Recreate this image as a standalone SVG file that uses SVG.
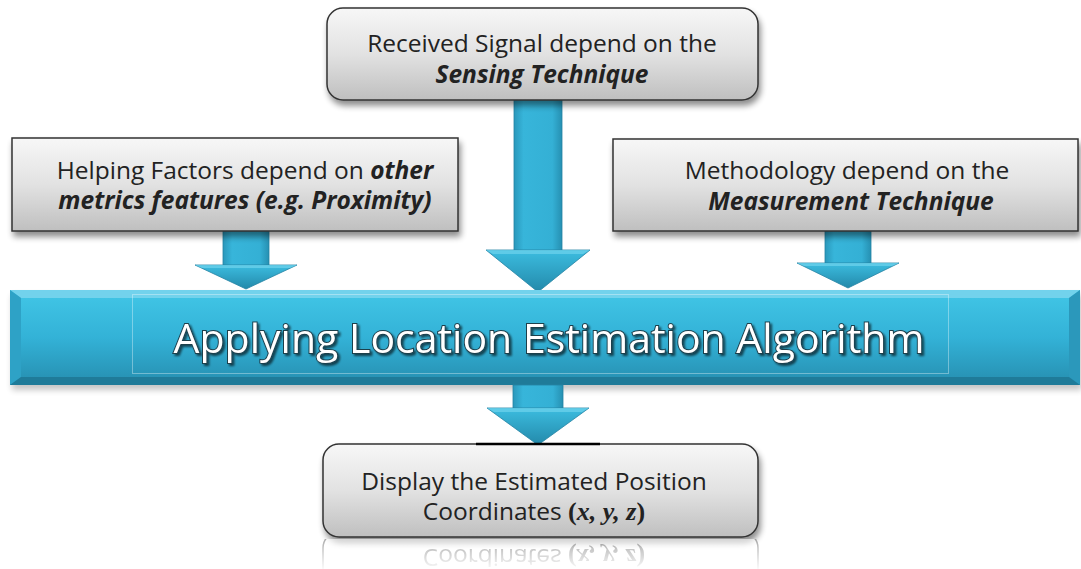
<svg xmlns="http://www.w3.org/2000/svg" width="1081" height="569" viewBox="0 0 1081 569">
<defs>
<linearGradient id="gray" x1="0" y1="0" x2="0" y2="1">
<stop offset="0" stop-color="#f7f7f7"/>
<stop offset="0.5" stop-color="#e2e2e2"/>
<stop offset="1" stop-color="#bfbfbf"/>
</linearGradient>
<linearGradient id="bannerFace" x1="0" y1="0" x2="0" y2="1">
<stop offset="0" stop-color="#3fc3e4"/>
<stop offset="0.5" stop-color="#33b2d7"/>
<stop offset="1" stop-color="#2894b6"/>
</linearGradient>
<linearGradient id="shaft" x1="0" y1="0" x2="1" y2="0">
<stop offset="0" stop-color="#2a98bb"/>
<stop offset="0.2" stop-color="#37b5da"/>
<stop offset="0.8" stop-color="#34b0d5"/>
<stop offset="1" stop-color="#2690b2"/>
</linearGradient>
<linearGradient id="head" x1="0" y1="0" x2="0" y2="1">
<stop offset="0" stop-color="#3cbde0"/>
<stop offset="1" stop-color="#2389aa"/>
</linearGradient>
<linearGradient id="fade" x1="0" y1="0" x2="0" y2="1">
<stop offset="0" stop-color="#fff" stop-opacity="0.6"/>
<stop offset="1" stop-color="#fff" stop-opacity="0.05"/>
</linearGradient>
<mask id="reflMask" maskUnits="userSpaceOnUse" x="0" y="0" width="1081" height="569">
<rect x="300" y="539" width="480" height="30" fill="url(#fade)"/>
</mask>
<filter id="shadow" x="-5%" y="-10%" width="110%" height="130%">
<feGaussianBlur in="SourceAlpha" stdDeviation="3"/>
<feOffset dx="2" dy="5" result="b"/>
<feComponentTransfer><feFuncA type="linear" slope="0.45"/></feComponentTransfer>
<feMerge><feMergeNode/><feMergeNode in="SourceGraphic"/></feMerge>
</filter>
<filter id="txtShadow" x="-5%" y="-20%" width="110%" height="150%">
<feGaussianBlur in="SourceAlpha" stdDeviation="1.2"/>
<feOffset dx="2" dy="2"/>
<feComponentTransfer><feFuncA type="linear" slope="0.6"/></feComponentTransfer>
<feMerge><feMergeNode/><feMergeNode in="SourceGraphic"/></feMerge>
</filter>
</defs>
<style>
.box{fill:url(#gray);stroke:#333;stroke-width:1.5}
.t{font-family:"Open Sans","Liberation Sans",sans-serif;font-size:24.5px;fill:#222;text-anchor:middle}
.bi{font-weight:bold;font-style:italic}
.math{font-family:"Liberation Serif",serif;font-weight:bold;font-size:26px}
.shaft{fill:url(#shaft);stroke:#2583a3;stroke-width:0.8}
.head{fill:url(#head);stroke:#2583a3;stroke-width:0.8}
.hl{fill:#6fd3ec;opacity:0.7}
.banner-t{font-family:"Open Sans","Liberation Sans",sans-serif;font-size:41px;fill:#fff;stroke:#1c3f4c;stroke-width:2;paint-order:stroke;text-anchor:middle}
</style>
<rect width="1081" height="569" fill="#fff"/>

<g id="connectors">
<g id="arrow-left">
<rect class="shaft" x="223" y="231" width="46" height="35"/>
<path class="head" d="M195,265 L297,265 L246,289 Z"/>
<path class="hl" d="M195,265 L297,265 L290,268 L202,268 Z"/>
</g>
<g id="arrow-center">
<rect class="shaft" x="514" y="100" width="48" height="151"/>
<path class="head" d="M486,250 L590,250 L538,292 Z"/>
<path class="hl" d="M486,250 L590,250 L583,254 L493,254 Z"/>
</g>
<g id="arrow-right">
<rect class="shaft" x="825" y="231" width="46" height="33"/>
<path class="head" d="M797,263 L899,263 L848,288 Z"/>
<path class="hl" d="M797,263 L899,263 L892,266 L804,266 Z"/>
</g>
</g>

<g id="node-banner">
<rect x="10" y="290" width="1070" height="95" fill="#888" opacity="0.5" filter="url(#shadow)"/>
<rect x="10" y="290" width="1070" height="95" fill="url(#bannerFace)"/>
<polygon points="10,290 1080,290 1069,298 21,298" fill="#72d2ec"/>
<polygon points="10,290 21,298 21,377 10,385" fill="#2ea2c6"/>
<polygon points="1080,290 1069,298 1069,377 1080,385" fill="#2b98bb"/>
<polygon points="10,385 1080,385 1069,377 21,377" fill="#1f7b99"/>
<rect x="21" y="298" width="1048" height="79" fill="url(#bannerFace)"/>
<rect x="132.5" y="294.5" width="816" height="79" fill="none" stroke="#ffffff" stroke-opacity="0.35" stroke-width="1"/>
<text class="banner-t" x="549" y="353" filter="url(#txtShadow)">Applying Location Estimation Algorithm</text>
</g>

<g id="arrow-bottom">
<rect class="shaft" x="513" y="385" width="50" height="24"/>
<path class="head" d="M487,408 L589,408 L538,445 Z"/>
<path class="hl" d="M487,408 L589,408 L582,412 L494,412 Z"/>
</g>

<g id="node-top">
<rect class="box" x="327" y="8" width="431" height="92" rx="16" filter="url(#shadow)"/>
<text class="t" x="542" y="52">Received Signal depend on the</text>
<text class="t bi" x="542" y="83">Sensing Technique</text>
</g>

<g id="node-left">
<rect class="box" x="12" y="138" width="446" height="93" filter="url(#shadow)"/>
<text class="t" x="245" y="179">Helping Factors depend on <tspan class="bi">other</tspan></text>
<text class="t bi" x="245" y="209">metrics features (e.g. Proximity)</text>
</g>

<g id="node-right">
<rect class="box" x="613" y="139" width="465" height="92" filter="url(#shadow)"/>
<text class="t" x="847" y="179">Methodology depend on the</text>
<text class="t bi" x="851" y="210">Measurement Technique</text>
</g>

<g id="node-bottom">
<rect class="box" x="323" y="444" width="435" height="93" rx="16" filter="url(#shadow)"/>
<line x1="476" y1="444" x2="600" y2="444" stroke="#000" stroke-width="2.5"/>
<text class="t" x="534" y="490">Display the Estimated Position</text>
<text class="t" x="534" y="520">Coordinates <tspan class="math">(</tspan><tspan class="math" font-style="italic">x, y, z</tspan><tspan class="math">)</tspan></text>
</g>

<g id="reflection" mask="url(#reflMask)">
<g transform="translate(0,1069) scale(1,-1)">
<rect x="323" y="444" width="435" height="93" rx="16" fill="#fff" stroke="#777" stroke-width="1.5"/>
<text class="t" x="534" y="520" style="fill:#777">Coordinates <tspan class="math">(</tspan><tspan class="math" font-style="italic">x, y, z</tspan><tspan class="math">)</tspan></text>
</g>
</g>
</svg>
